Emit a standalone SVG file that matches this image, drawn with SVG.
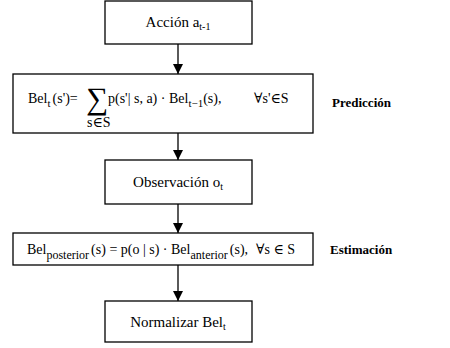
<svg xmlns="http://www.w3.org/2000/svg" width="450" height="348" viewBox="0 0 450 348">
<defs>
<marker id="ah" viewBox="0 0 10 10" refX="10" refY="5" markerWidth="10" markerHeight="10" markerUnits="userSpaceOnUse" orient="auto">
<path d="M0,0 L10,5 L0,10 z" fill="#000"/>
</marker>
</defs>
<style>
.box{fill:#fff;stroke:#000;stroke-width:1.3}
text{font-family:'Liberation Serif','Times New Roman','DejaVu Serif',serif;fill:#000}
.t{font-size:15px}
.f{font-size:14px}
.lab{font-size:13px;font-weight:bold}
.c{stroke:#000;stroke-width:1.3;fill:none}
</style>
<rect width="450" height="348" fill="#fff"/>
<g id="connectors">
<line class="c" x1="178" y1="44" x2="178" y2="74" marker-end="url(#ah)"/>
<line class="c" x1="178" y1="133" x2="178" y2="160" marker-end="url(#ah)"/>
<line class="c" x1="178" y1="204" x2="178" y2="233" marker-end="url(#ah)"/>
<line class="c" x1="178" y1="265" x2="178" y2="301" marker-end="url(#ah)"/>
</g>
<g id="accion">
<rect class="box" x="105" y="1" width="147" height="43"/>
<text class="t" x="178" y="27" text-anchor="middle">Acción a<tspan font-size="10" dy="3">t-1</tspan></text>
</g>
<g id="prediccion-formula">
<rect class="box" x="13" y="74" width="300" height="59"/>
<text class="f" x="28" y="103">Bel<tspan font-size="11" dy="4">t</tspan><tspan dy="-4" dx="2">(s')=</tspan></text>
<text x="86" y="109" font-size="31">∑</text>
<text class="f" x="87" y="127" font-size="10">s∈S</text>
<text class="f" x="108" y="103">p(s'| s, a) · Bel<tspan font-size="11" dy="4">t−1</tspan><tspan dy="-4">(s),</tspan></text>
<text class="f" x="254" y="103">∀s'∈S</text>
</g>
<g id="observacion">
<rect class="box" x="105" y="160" width="147" height="44"/>
<text class="t" x="178" y="187" text-anchor="middle">Observación o<tspan font-size="10" dy="3">t</tspan></text>
</g>
<g id="estimacion-formula">
<rect class="box" x="13" y="233" width="300" height="32"/>
<text class="f" x="27" y="254">Bel<tspan font-size="12" dy="5">posterior</tspan><tspan dy="-5" dx="2">(s) = p(o | s) · Bel</tspan><tspan font-size="12" dy="5">anterior</tspan><tspan dy="-5" dx="2">(s),</tspan></text>
<text class="f" x="256" y="254">∀s ∈ S</text>
</g>
<g id="normalizar">
<rect class="box" x="105" y="301" width="147" height="41"/>
<text class="t" x="178" y="327" text-anchor="middle">Normalizar Bel<tspan font-size="10" dy="3">t</tspan></text>
</g>
<g id="labels">
<text class="lab" x="332" y="107">Predicción</text>
<text class="lab" x="330" y="254">Estimación</text>
</g>
</svg>
